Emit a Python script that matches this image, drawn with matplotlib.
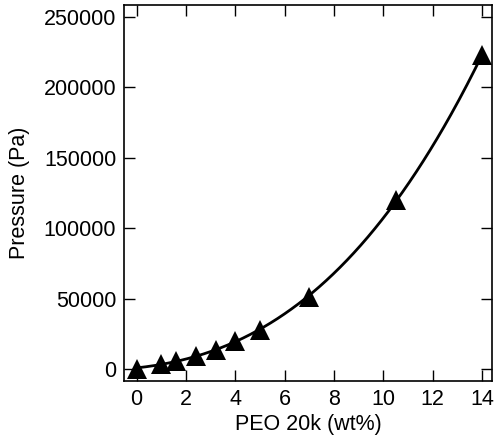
import numpy as np
import matplotlib.pyplot as plt

plt.rcParams['font.family'] = ['Liberation Sans', 'DejaVu Sans']

# PEO 20k concentration (wt%) and osmotic pressure (Pa)
peo_wt = [0.0, 1.0, 1.6, 2.4, 3.2, 4.0, 5.0, 7.0, 10.5, 14.0]
pressure = [500, 3500, 6000, 9500, 14000, 20000, 28000, 51500, 120000, 223000]

x_ticks = [0, 2, 4, 6, 8, 10, 12, 14]
y_ticks = [0, 50000, 100000, 150000, 200000, 250000]

# smooth fit through the points
coef = np.polyfit(peo_wt, pressure, 3)
xf = np.linspace(0, 14, 300)
yf = np.polyval(coef, xf)

fig = plt.figure(figsize=(4.95, 4.43), dpi=100)
ax = fig.add_axes([0.2515, 0.14, 0.7425, 0.8487])

ax.plot(xf, yf, color="black", lw=2)
ax.plot(peo_wt, pressure, "^", color="black", ms=15, mew=0)

ax.set_xlim(-0.49, 14.4)
ax.set_ylim(-8300, 258500)
ax.set_xticks(x_ticks)
ax.set_yticks(y_ticks)
ax.tick_params(direction="in", length=8, width=1, labelsize=15.5,
               top=True, right=True, pad=6)
for s in ax.spines.values():
    s.set_linewidth(1.2)

ax.set_xlabel("PEO 20k (wt%)", fontsize=15.5, labelpad=3)
ax.set_ylabel("Pressure (Pa)", fontsize=15.5, labelpad=10)

fig.savefig("out.png", dpi=100)
